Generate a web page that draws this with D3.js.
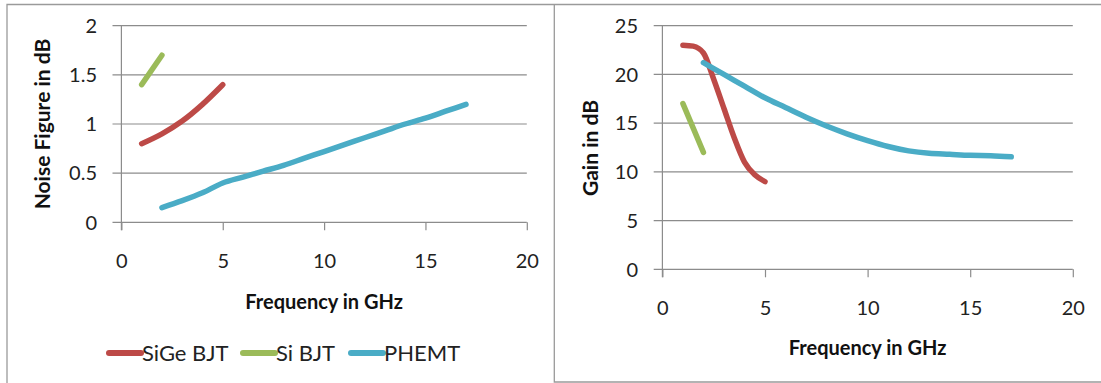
<!DOCTYPE html>
<html>
<head>
<meta charset="utf-8">
<script src="https://cdn.jsdelivr.net/npm/d3@7"></script>
<style>
  html, body { margin: 0; padding: 0; background: #fff; }
  svg { display: block; font-family: Lato, "Open Sans", sans-serif; }
</style>
</head>
<body>
<svg id="chart" width="1101" height="383"></svg>
<script>
// ---- Data ----
const seriesNames = ["SiGe BJT", "Si BJT", "PHEMT"];
const seriesColors = ["#BD4A47", "#9BBB59", "#4AACC6"];

// Noise figure (dB) vs frequency (GHz)
const nfSiGeFreq = [1, 2, 3, 4, 5];
const nfSiGe     = [0.8, 0.9, 1.03, 1.2, 1.4];
const nfSiFreq   = [1, 2];
const nfSi       = [1.4, 1.7];
const nfPhemtFreq = [2, 3, 4, 5, 6, 7, 8, 9, 10, 11, 12, 13, 14, 15, 16, 17];
const nfPhemt     = [0.15, 0.22, 0.3, 0.4, 0.46, 0.52, 0.58, 0.65, 0.72, 0.79, 0.86, 0.93, 1.0, 1.06, 1.13, 1.2];

// Gain (dB) vs frequency (GHz)
const gSiGeFreq = [1, 1.5, 2, 2.5, 3, 3.5, 4, 4.5, 5];
const gSiGe     = [23, 22.9, 22.2, 19.5, 16.5, 13.5, 11, 9.7, 9];
const gSiFreq   = [1, 2];
const gSi       = [17, 12];
const gPhemtFreq = [2, 3, 4, 5, 6, 7, 8, 9, 10, 11, 12, 13, 14, 15, 16, 17];
const gPhemt     = [21.2, 20, 18.8, 17.6, 16.6, 15.6, 14.7, 13.9, 13.2, 12.6, 12.15, 11.9, 11.8, 11.7, 11.65, 11.55];

const xTicks = [0, 5, 10, 15, 20];
const nfTicks = [0, 0.5, 1, 1.5, 2];
const gainTicks = [0, 5, 10, 15, 20, 25];

const xTitle = "Frequency in GHz";
const nfTitle = "Noise Figure in dB";
const gainTitle = "Gain in dB";

// ---- Drawing ----
const svg = d3.select("#chart");
const frameColor = "#9a9a9a";
const gridColor = "#8c8c8c";

// frames
svg.append("path")
  .attr("d", "M7,383 V4.5 H1101 M554.3,4.5 V382 H1101")
  .attr("fill", "none").attr("stroke", frameColor).attr("stroke-width", 1.3);

function drawChart(cfg) {
  const g = svg.append("g");
  const x = d3.scaleLinear().domain([0, 20]).range(cfg.xr);
  const y = d3.scaleLinear().domain(cfg.yd).range(cfg.yr);

  // gridlines
  g.selectAll(".grid").data(cfg.yTicks).join("line")
    .attr("x1", cfg.gridStart).attr("x2", x(20))
    .attr("y1", d => y(d)).attr("y2", d => y(d))
    .attr("stroke", gridColor).attr("stroke-width", 1.2);

  // vertical axis line
  g.append("line")
    .attr("x1", x(0)).attr("x2", x(0))
    .attr("y1", y(cfg.yd[1])).attr("y2", y(0) + 8)
    .attr("stroke", gridColor).attr("stroke-width", 1.2);

  // x axis ticks via d3 axis
  const xAxis = d3.axisBottom(x).tickValues(xTicks).tickSize(8).tickPadding(25)
    .tickFormat(d3.format("d"));
  const ax = g.append("g").attr("transform", `translate(0,${y(0)})`).call(xAxis);
  ax.select(".domain").remove();
  ax.selectAll(".tick line").attr("stroke", gridColor).attr("stroke-width", 1.2);
  ax.selectAll(".tick text")
    .attr("font-family", "Lato, sans-serif").attr("font-size", 20)
    .attr("fill", "#222").attr("dy", null).attr("y", cfg.xLabelDy);

  // y tick labels
  g.selectAll(".ylab").data(cfg.yTicks).join("text")
    .attr("x", cfg.yLabelX).attr("y", d => y(d))
    .attr("dy", "0.36em")
    .attr("text-anchor", "end")
    .attr("font-size", 20).attr("fill", "#222")
    .text(d => String(d));

  // titles
  g.append("text")
    .attr("x", (cfg.xr[0] + cfg.xr[1]) / 2).attr("y", cfg.xTitleY)
    .attr("text-anchor", "middle").attr("font-weight", "bold")
    .attr("font-size", 20).attr("fill", "#111")
    .text(xTitle);
  g.append("text")
    .attr("transform", `translate(${cfg.yTitleX},${cfg.yTitleY}) rotate(-90)`)
    .attr("text-anchor", "middle").attr("dy", "0.36em")
    .attr("font-weight", "bold").attr("font-size", 21).attr("fill", "#111")
    .text(cfg.yTitle);

  // lines
  const line = d3.line().x(d => x(d[0])).y(d => y(d[1])).curve(d3.curveMonotoneX);
  cfg.series.forEach((s, i) => {
    const pts = s.f.map((f, j) => [f, s.v[j]]);
    g.append("path").datum(pts)
      .attr("d", line)
      .attr("fill", "none")
      .attr("stroke", seriesColors[i])
      .attr("stroke-width", 5.5)
      .attr("stroke-linecap", "round")
      .attr("stroke-linejoin", "round");
  });
}

drawChart({
  xr: [121.4, 526.8], yd: [0, 2], yr: [222.3, 25.7],
  yTicks: nfTicks, gridStart: 112.5, yLabelX: 97,
  xLabelDy: 46, xTitleY: 309, yTitleX: 42, yTitleY: 124, yTitle: nfTitle,
  series: [
    { f: nfSiGeFreq, v: nfSiGe },
    { f: nfSiFreq, v: nfSi },
    { f: nfPhemtFreq, v: nfPhemt }
  ]
});

drawChart({
  xr: [662.4, 1072.8], yd: [0, 25], yr: [269.3, 25.7],
  yTicks: gainTicks, gridStart: 653.7, yLabelX: 638,
  xLabelDy: 46, xTitleY: 355, yTitleX: 590.4, yTitleY: 148, yTitle: gainTitle,
  series: [
    { f: gSiGeFreq, v: gSiGe },
    { f: gSiFreq, v: gSi },
    { f: gPhemtFreq, v: gPhemt }
  ]
});

// legend
const legendX = [109, 243, 351];
const lg = svg.append("g");
seriesNames.forEach((name, i) => {
  lg.append("line")
    .attr("x1", legendX[i]).attr("x2", legendX[i] + 32)
    .attr("y1", 353).attr("y2", 353)
    .attr("stroke", seriesColors[i]).attr("stroke-width", 6)
    .attr("stroke-linecap", "round");
  lg.append("text")
    .attr("x", legendX[i] + 33).attr("y", 353).attr("dy", "0.36em")
    .attr("font-size", 22).attr("fill", "#222")
    .text(name);
});
</script>
</body>
</html>
